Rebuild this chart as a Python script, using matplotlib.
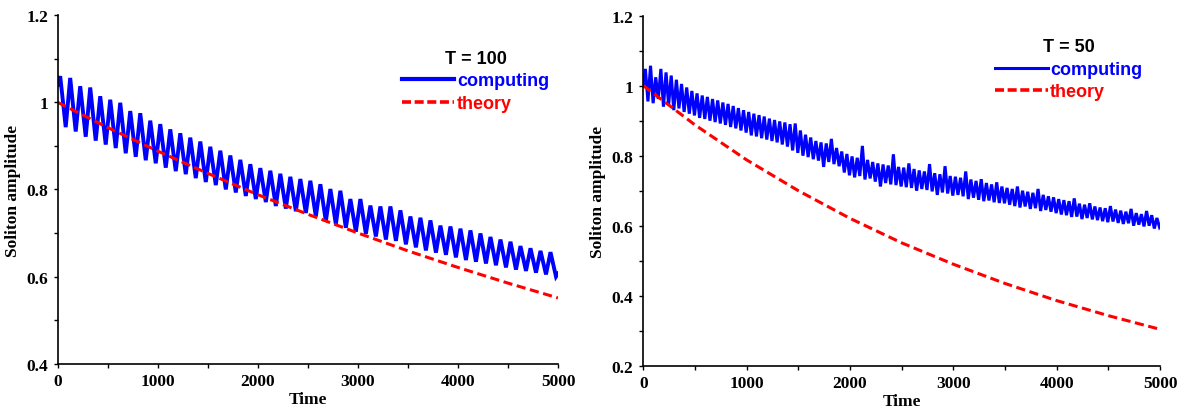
import numpy as np
import matplotlib.pyplot as plt
from matplotlib.ticker import MultipleLocator, StrMethodFormatter
from matplotlib.lines import Line2D

# %% Data -----------------------------------------------------------

# T = 100 panel: one peak and one trough per period
peaks_100 = [1.060, 1.056, 1.037, 1.034, 1.014, 1.006, 0.999, 0.980, 0.975, 0.958,
             0.950, 0.938, 0.929, 0.919, 0.910, 0.898, 0.889, 0.878, 0.868, 0.858,
             0.849, 0.843, 0.836, 0.829, 0.824, 0.820, 0.812, 0.801, 0.797, 0.778,
             0.778, 0.763, 0.761, 0.761, 0.752, 0.738, 0.735, 0.729, 0.717, 0.715,
             0.710, 0.706, 0.699, 0.691, 0.685, 0.680, 0.670, 0.665, 0.659, 0.656]
troughs_100 = [0.943, 0.933, 0.921, 0.912, 0.903, 0.895, 0.883, 0.875, 0.867, 0.860,
               0.850, 0.842, 0.835, 0.826, 0.817, 0.810, 0.800, 0.793, 0.785, 0.778,
               0.771, 0.762, 0.756, 0.750, 0.746, 0.738, 0.727, 0.720, 0.712, 0.703,
               0.698, 0.692, 0.685, 0.682, 0.674, 0.667, 0.660, 0.655, 0.650, 0.644,
               0.638, 0.634, 0.630, 0.626, 0.621, 0.616, 0.613, 0.609, 0.605, 0.600]
start_100, end_100 = 1.040, 0.607

# T = 50 panel
peaks_50 = [1.048, 1.057, 1.024, 1.048, 1.038, 1.029, 1.017, 1.005, 0.995, 0.985,
            0.978, 0.972, 0.968, 0.962, 0.958, 0.952, 0.948, 0.942, 0.936, 0.930,
            0.925, 0.920, 0.916, 0.912, 0.906, 0.902, 0.898, 0.895, 0.890, 0.892,
            0.872, 0.860, 0.852, 0.842, 0.838, 0.835, 0.848, 0.822, 0.812, 0.805,
            0.798, 0.794, 0.828, 0.788, 0.782, 0.778, 0.775, 0.772, 0.804, 0.768,
            0.766, 0.778, 0.762, 0.758, 0.755, 0.776, 0.750, 0.747, 0.770, 0.742,
            0.740, 0.737, 0.755, 0.732, 0.728, 0.733, 0.722, 0.718, 0.724, 0.712,
            0.708, 0.705, 0.712, 0.700, 0.697, 0.694, 0.705, 0.688, 0.684, 0.681,
            0.676, 0.673, 0.670, 0.678, 0.663, 0.660, 0.664, 0.655, 0.652, 0.650,
            0.656, 0.646, 0.643, 0.640, 0.648, 0.636, 0.633, 0.642, 0.630, 0.622]
troughs_50 = [0.955, 0.950, 0.962, 0.940, 0.945, 0.930, 0.935, 0.925, 0.920, 0.915,
              0.908, 0.905, 0.900, 0.896, 0.892, 0.888, 0.882, 0.878, 0.872, 0.866,
              0.858, 0.855, 0.850, 0.846, 0.842, 0.838, 0.832, 0.826, 0.815, 0.808,
              0.800, 0.796, 0.790, 0.786, 0.768, 0.782, 0.776, 0.770, 0.752, 0.744,
              0.738, 0.742, 0.732, 0.735, 0.726, 0.712, 0.722, 0.718, 0.716, 0.712,
              0.710, 0.708, 0.700, 0.705, 0.702, 0.698, 0.688, 0.695, 0.692, 0.686,
              0.688, 0.684, 0.676, 0.680, 0.674, 0.670, 0.672, 0.667, 0.665, 0.664,
              0.660, 0.656, 0.652, 0.655, 0.648, 0.650, 0.642, 0.645, 0.640, 0.636,
              0.632, 0.630, 0.625, 0.626, 0.619, 0.622, 0.618, 0.616, 0.613, 0.610,
              0.612, 0.608, 0.605, 0.607, 0.600, 0.603, 0.598, 0.600, 0.592, 0.596]
start_50, end_50 = 1.000, 0.598

# theory curves, sampled every 500 time units
t_theory = [0, 500, 1000, 1500, 2000, 2500, 3000, 3500, 4000, 4500, 5000]
theory_100 = [1.000, 0.942, 0.888, 0.837, 0.788, 0.743, 0.700, 0.659, 0.621, 0.585, 0.551]
theory_50 = [1.000, 0.888, 0.788, 0.700, 0.621, 0.551, 0.490, 0.435, 0.386, 0.343, 0.304]


def zigzag(period, peak_off, trough_off, peaks, troughs, v0, v1):
    n = len(peaks)
    tp = peak_off + period*np.arange(n)
    tt = trough_off + period*np.arange(n)
    t = np.column_stack([tp, tt]).ravel()
    v = np.column_stack([peaks, troughs]).ravel()
    return np.r_[0, t, 5000], np.r_[v0, v, v1]


# %% Plots ----------------------------------------------------------

serif = 'Liberation Serif'
sans = 'Liberation Sans'

fig = plt.figure(figsize=(11.82, 4.14), dpi=100)
ax1 = fig.add_axes([57.7/1182, 1-364.7/414, 500.3/1182, 348.5/414])
ax2 = fig.add_axes([643.3/1182, 1-366.7/414, 516.7/1182, 350/414])

t1, y1 = zigzag(100, 25, 80, peaks_100, troughs_100, start_100, end_100)
t2, y2 = zigzag(50, 20, 45, peaks_50, troughs_50, start_50, end_50)

panels = [(ax1, t1, y1, theory_100, 'T = 100', (0.4, 1.2), 2.8, 3.0, (0.688, 0.90)),
          (ax2, t2, y2, theory_50, 'T = 50', (0.2, 1.2), 2.2, 2.2, (0.681, 0.935))]

for ax, t, y, th, title, ylim, lw, lw_leg, anchor in panels:
    ax.plot(t, y, color='#0000ff', lw=lw, solid_joinstyle='miter')
    ax.plot(t_theory, th, color='#ff0000', lw=2.2, dashes=(3, 1.5))
    ax.set_xlim(0, 5000)
    ax.set_ylim(*ylim)
    ax.spines['top'].set_visible(False)
    ax.spines['right'].set_visible(False)
    for s in ('left', 'bottom'):
        ax.spines[s].set_linewidth(1.2)
    ax.xaxis.set_major_locator(MultipleLocator(1000))
    ax.xaxis.set_minor_locator(MultipleLocator(500))
    ax.yaxis.set_major_locator(MultipleLocator(0.2))
    ax.yaxis.set_minor_locator(MultipleLocator(0.1))
    ax.yaxis.set_major_formatter(StrMethodFormatter('{x:g}'))
    ax.tick_params(which='both', direction='out', length=3, width=1, pad=4)
    for lab in ax.get_xticklabels() + ax.get_yticklabels():
        lab.set_fontfamily(serif)
        lab.set_fontweight('bold')
        lab.set_fontsize(12.5)
    ax.set_xlabel('Time', fontfamily=serif, fontweight='bold', fontsize=12.5, labelpad=1)
    ax.set_ylabel('Soliton amplitude', fontfamily=serif, fontweight='bold', fontsize=12.5, labelpad=4)

    handles = [Line2D([], [], color='#0000ff', lw=lw_leg),
               Line2D([], [], color='#ff0000', lw=2.6, dashes=(2.5, 1))]
    ax.legend(handles, ['computing', 'theory'], title=title, frameon=False,
              loc='upper left', bbox_to_anchor=anchor, borderpad=0, borderaxespad=0,
              handlelength=2.9, handletextpad=0.15, labelspacing=0.3,
              labelcolor='linecolor',
              prop=dict(family=sans, weight='bold', size=13),
              title_fontproperties=dict(family=sans, weight='bold', size=13))

fig.savefig('out.png', dpi=100)
